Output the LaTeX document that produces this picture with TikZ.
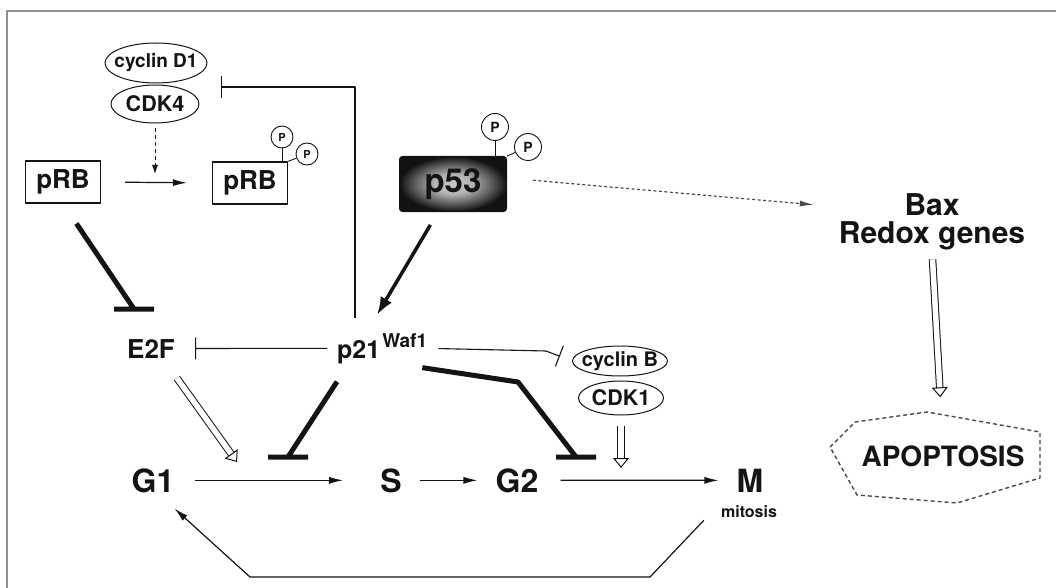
\documentclass[tikz,border=0pt]{standalone}
\usepackage{fontspec}
\setmainfont{TeX Gyre Heros}
\usetikzlibrary{arrows.meta,positioning,calc,shapes.geometric}
\definecolor{Ink}{HTML}{141414}
\definecolor{Frame}{HTML}{8F8F8F}
\definecolor{Dots}{HTML}{4A4A4A}
\newcommand{\fsz}[1]{\fontsize{#1}{#1}\selectfont\bfseries}
\pgfdeclareradialshading{glow}{\pgfpoint{0bp}{0bp}}{color(0bp)=(black!22); color(9bp)=(black!30); color(19bp)=(black!68); color(25bp)=(black!93); color(50bp)=(black!93)}
\tikzset{protein/.style={rectangle,draw=Ink,line width=1.3pt,minimum width=75pt,minimum height=42pt,inner sep=0pt,text=Ink,font=\fsz{26}},cplx/.style={ellipse,draw=Ink,line width=1pt,inner xsep=-8pt,inner ysep=0pt,text=Ink},phos/.style={circle,draw=Ink,line width=0.9pt,inner sep=0pt,minimum size=22pt,text=Ink,font=\fsz{11}},gene/.style={inner sep=0pt,text=Ink},phase/.style={inner sep=0pt,anchor=base,text=Ink,font=\fsz{32}},act/.style={draw=Ink,line width=1.2pt,-{Latex[length=14pt,width=7pt]}},pact/.style={draw=Ink,line width=3.5pt,-{Latex[length=18pt,width=13pt]}},dashact/.style={draw=Ink,line width=1pt,dash pattern=on 4pt off 3pt,-{Latex[length=9pt,width=6pt]}},dotact/.style={draw=Dots,line width=1.2pt,dash pattern=on 3pt off 2.5pt,-{Latex[length=14pt,width=6pt]}},inhib/.style={draw=Ink,line width=5pt},winhib/.style={draw=Ink,line width=1.1pt,-{Bar[width=22pt]}},hollow/.style={draw=Ink,line width=1pt,double=white,double distance=5.5pt,-{Triangle[length=10pt,width=16pt,fill=white,line width'=1pt]}}}

\begin{document}
\begin{tikzpicture}[x=1pt,y=-1pt,line join=round]
\useasboundingbox (0,0) rectangle (1056,588);
\fill[white] (0,0) rectangle (1056,588);
\draw[Frame,line width=1.5pt] (7,588) -- (7,11) -- (1056,11);
% retinoblastoma branch
\node[cplx,minimum width=102pt,minimum height=40pt,font=\fsz{19}] (cycD1) at (156,63) {cyclin D1};
\node[cplx,minimum width=88pt,minimum height=38pt,font=\fsz{21.5}] (cdk4) at (155,104) {CDK4};
\node[protein] (prb) at (63,182) {pRB};\node[protein] (pprb) at (250,183) {pRB};
\node[phos] (pa) at (282,137) {P};\node[phos] (pb) at (307,154) {P};
\draw[Ink,line width=0.9pt] (pa) -- (pa |- pprb.north);\draw[Ink,line width=0.9pt] (pprb.north east) -- (pb);
\coordinate (phospt) at (155,174);
\draw[act,shorten <=24pt,shorten >=25pt] (prb.east) -- (pprb.west);
\draw[dashact,shorten <=5pt] (cdk4.south) -- (phospt);
% p53 and targets
\node[rectangle,rounded corners=3pt,draw=Ink,line width=1pt,shading=glow,minimum width=107pt,minimum height=55pt,text=Ink,font=\fsz{33}] (p53) at (453,184) {p53};
\node[phos,minimum size=27pt,font=\fsz{14}] (pc) at (495,127) {P};\node[phos,minimum size=27pt,font=\fsz{14}] (pd) at (528,147) {P};
\draw[Ink,line width=0.9pt] (pc) -- (pc |- p53.north);\draw[Ink,line width=0.9pt] (p53.north east) -- (pd);
\node[gene,anchor=north,align=center,font={\fontsize{30}{28}\selectfont\bfseries}] (bax) at (932,193.5) {Bax\\Redox genes};
\node[gene,font=\fsz{28}] (apop) at (943,456) {APOPTOSIS};
\draw[Dots,line width=1.4pt,dash pattern=on 4pt off 3pt] (830,447) -- (855,422) -- (927,412) -- (1040,432) -- (1040,478) -- (957,503) -- (857,495) -- cycle;
\draw[dotact,shorten <=26pt,shorten >=25pt] ([yshift=6pt]p53.east) -- ([yshift=15pt]bax.west);
\draw[hollow,shorten <=9pt,shorten >=48pt] (bax.south) -- (apop.north);
% p21 and the cycle
\node[gene,anchor=base west,font=\fsz{25}] (p21) at (337,358) {p21\hspace{2pt}\raisebox{11pt}{\fsz{19}Waf1}};
\node[gene,anchor=base,font=\fsz{26}] (e2f) at (151,358) {E2F};
\node[cplx,minimum width=95pt,minimum height=30pt,font=\fsz{20}] (cycB) at (620,361) {cyclin B};
\node[cplx,minimum width=85pt,minimum height=34pt,font=\fsz{21.5}] (cdk1) at (621,398) {CDK1};
\node[phase] (g1) at (153,492) {G1};\node[phase] (s) at (391,492) {S};\node[phase] (g2) at (517,492) {G2};\node[phase] (m) at (750,492) {M};
\node[gene,font=\fsz{16}] (mitosis) at (749,512) {mitosis};
\coordinate (d1bar) at (221,87);\coordinate (e2fbar) at (134,309);\coordinate (gsbar) at (288,457);\coordinate (gmbar) at (576,457);\coordinate (p21tip) at (377,315);\coordinate (gsact) at (237,462);\coordinate (gmact) at (621,468);
\draw[act,shorten <=20pt,shorten >=37pt] (g1.east) -- (s.west);\draw[act,shorten <=18pt,shorten >=18pt] (s.east) -- (g2.west);\draw[act,shorten <=22pt,shorten >=18pt] (g2.east) -- (m.west);
\draw[act] ([xshift=-17pt,yshift=-2pt]mitosis.south west) -- (650,577) -- (250,577) -- ([yshift=-16pt]g1.south east);
\draw[inhib] ($(prb.south)!24pt!(e2fbar)$) -- (e2fbar) +(-20,0) -- +(20,0);
\draw[pact,shorten <=15pt] ([xshift=-15pt]p53.south) -- (p21tip);
\draw[winhib] ([xshift=18pt,yshift=15pt]p21.north west) |- (d1bar);
\draw[winhib,shorten <=10pt,shorten >=20pt] (p21.west) -- (e2f.east);
\draw[winhib,shorten <=11pt,shorten >=13pt] (p21.east) -- (546,351) -- (cycB.west);
\draw[inhib] ([yshift=-18pt]p21.south west) -- (gsbar) +(-20,0) -- +(20,0);
\draw[inhib] ([xshift=-5pt,yshift=-4pt]p21.south east) -- (518,382) -- (gmbar) +(-20,0) -- +(20,0);
\draw[hollow] ([xshift=26pt,yshift=-20pt]e2f.south) -- (gsact);
\draw[hollow,shorten <=10pt] (cdk1.south) -- (gmact);
\end{tikzpicture}
\end{document}
